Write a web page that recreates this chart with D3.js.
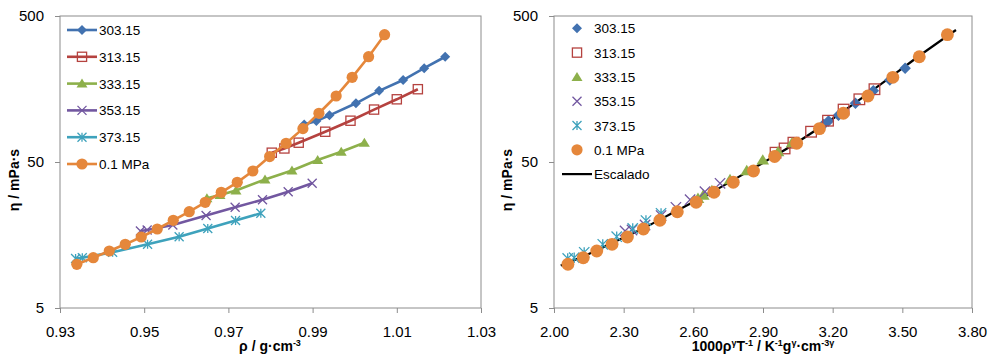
<!DOCTYPE html>
<html>
<head>
<meta charset="utf-8">
<script src="https://cdn.jsdelivr.net/npm/d3@7"></script>
<style>
body { margin: 0; background: #fff; }
text { font-family: "Liberation Sans", Arial, sans-serif; }
</style>
</head>
<body>
<script>
const largeur = 989;
const hauteur = 356;

// valeurs
const noms = ["303.15", "313.15", "333.15", "353.15", "373.15", "0.1 MPa"];

const rho303 = [0.9880, 0.9909, 0.9940, 1.0003, 1.0058, 1.0115, 1.0165, 1.0215];
const eta303 = [90.3, 95.4, 104.4, 126.2, 153.7, 182.2, 219.5, 263.0];
const x303 = [3.161, 3.182, 3.225, 3.298, 3.375, 3.446, 3.512, 3.574];

const rho313 = [0.9803, 0.9833, 0.9867, 0.9930, 0.9990, 1.0046, 1.0100, 1.0150];
const eta313 = [57.9, 61.9, 67.8, 80.6, 95.9, 114.3, 134.4, 157.6];
const x313 = [2.954, 2.993, 3.031, 3.107, 3.180, 3.247, 3.315, 3.380];

const rho333 = [0.9649, 0.9680, 0.9718, 0.9787, 0.9851, 0.9912, 0.9968, 1.0023];
const eta333 = [28.2, 29.7, 31.9, 37.9, 43.7, 51.6, 58.8, 67.8];
const x333 = [2.620, 2.643, 2.680, 2.758, 2.830, 2.899, 2.965, 3.025];

const rho353 = [0.9491, 0.9507, 0.9568, 0.9647, 0.9716, 0.9781, 0.9842, 0.9899];
const eta353 = [16.84, 17.11, 18.51, 21.50, 24.47, 27.59, 31.30, 35.73];
const x353 = [2.306, 2.336, 2.392, 2.461, 2.525, 2.586, 2.650, 2.715];

const rho373 = [0.9337, 0.9353, 0.9425, 0.9508, 0.9583, 0.9651, 0.9717, 0.9777];
const eta373 = [10.92, 11.05, 12.03, 13.65, 15.39, 17.52, 19.87, 22.26];
const x373 = [2.059, 2.087, 2.130, 2.210, 2.270, 2.339, 2.396, 2.461];

const rho01 = [0.9340, 0.9379, 0.9417, 0.9455, 0.9493, 0.9531, 0.9569, 0.9607, 0.9645, 0.9683,
               0.9721, 0.9758, 0.9798, 0.9837, 0.9877, 0.9915, 0.9956, 0.9994, 1.0033, 1.0071];
const eta01 = [9.96, 11.05, 12.29, 13.65, 15.32, 17.38, 19.94, 22.83, 26.48, 31.00,
               36.30, 43.38, 54.5, 67.2, 84.6, 107.8, 141.6, 190.1, 263.2, 372.4];
const x01 = [2.060, 2.126, 2.184, 2.250, 2.316, 2.385, 2.456, 2.531, 2.612, 2.689,
             2.772, 2.859, 2.950, 3.045, 3.143, 3.246, 3.352, 3.459, 3.573, 3.694];

// courbe "Escalado"
const xEscalado = [2.029, 2.125, 2.250, 2.383, 2.530, 2.689, 2.857, 3.046, 3.245, 3.456, 3.572, 3.731];
const etaEscalado = [9.77, 11.26, 13.94, 17.52, 23.27, 31.64, 45.12, 68.0, 110.9, 194.1, 266.1, 401.0];

const ticksRho = [0.93, 0.95, 0.97, 0.99, 1.01, 1.03];
const ticksX = [2.00, 2.30, 2.60, 2.90, 3.20, 3.50, 3.80];
const ticksEta = [5, 50, 500];

const couleurs = ["#4272b0", "#b5423f", "#8db04b", "#7257a0", "#3ea2bc", "#e5873b"];
const marques = ["losange", "carre", "triangle", "croix", "etoile", "cercle"];

const series = [
    { rho: rho303, eta: eta303, x: x303 },
    { rho: rho313, eta: eta313, x: x313 },
    { rho: rho333, eta: eta333, x: x333 },
    { rho: rho353, eta: eta353, x: x353 },
    { rho: rho373, eta: eta373, x: x373 },
    { rho: rho01, eta: eta01, x: x01 }
];

series.forEach(function(s, i)
{
    s.nom = noms[i];
    s.couleur = couleurs[i];
    s.marque = marques[i];
    s.points = s.eta.map(function(e, j)
    {
        return { rho: s.rho[j], x: s.x[j], eta: e };
    });
});

const svg = d3
.select("body")
.append("svg")
.attr("width", largeur)
.attr("height", hauteur);

const gris = "#8c8c8c";
const haut = 16;
const bas = 308;

function dessinerMarque(g, type, cx, cy, t, couleur)
{
    if(type == "losange")
    {
        g.append("path")
        .attr("d", "M" + cx + "," + (cy - t) + "L" + (cx + t) + "," + cy + "L" + cx + "," + (cy + t) + "L" + (cx - t) + "," + cy + "Z")
        .attr("fill", couleur);
    }
    else if(type == "carre")
    {
        g.append("rect")
        .attr("x", cx - t)
        .attr("y", cy - t)
        .attr("width", 2 * t)
        .attr("height", 2 * t)
        .attr("fill", "none")
        .attr("stroke", couleur)
        .attr("stroke-width", 1.3);
    }
    else if(type == "triangle")
    {
        g.append("path")
        .attr("d", "M" + cx + "," + (cy - t) + "L" + (cx + t * 1.1) + "," + (cy + t * 0.8) + "L" + (cx - t * 1.1) + "," + (cy + t * 0.8) + "Z")
        .attr("fill", couleur);
    }
    else if(type == "croix" || type == "etoile")
    {
        let d = "M" + (cx - t) + "," + (cy - t) + "L" + (cx + t) + "," + (cy + t)
              + "M" + (cx + t) + "," + (cy - t) + "L" + (cx - t) + "," + (cy + t);
        if(type == "etoile")
        {
            d += "M" + cx + "," + (cy - t) + "L" + cx + "," + (cy + t);
        }
        g.append("path")
        .attr("d", d)
        .attr("fill", "none")
        .attr("stroke", couleur)
        .attr("stroke-width", 1.3);
    }
    else
    {
        g.append("circle")
        .attr("cx", cx)
        .attr("cy", cy)
        .attr("r", t)
        .attr("fill", couleur);
    }
}

function tailleMarque(type, grand)
{
    const tailles = { losange: 5, carre: 4.6, triangle: 5, croix: 4.5, etoile: 4.5, cercle: 5.6 };
    return tailles[type] * (grand ? 1.15 : 1);
}

function dessinerAxes(g, x, y, gauche, droite, ticks, titreY)
{
    const axeX = d3.axisBottom(x)
    .tickValues(ticks)
    .tickFormat(d3.format(".2f"))
    .tickSize(5)
    .tickPadding(13)
    .tickSizeOuter(0);

    const gx = g.append("g")
    .attr("transform", "translate(0," + bas + ")")
    .call(axeX);

    const axeY = d3.axisLeft(y)
    .tickValues(ticksEta)
    .tickFormat(d3.format("d"))
    .tickSize(5)
    .tickPadding(11)
    .tickSizeOuter(0);

    const gy = g.append("g")
    .attr("transform", "translate(" + gauche + ",0)")
    .call(axeY);

    [gx, gy].forEach(function(a)
    {
        a.select(".domain").remove();
        a.selectAll("line").attr("stroke", gris);
        a.selectAll("text")
        .attr("fill", "#000")
        .style("font-size", "15px")
        .style("font-family", "'Liberation Sans', Arial, sans-serif");
    });

    g.append("rect")
    .attr("x", gauche)
    .attr("y", haut)
    .attr("width", droite - gauche)
    .attr("height", bas - haut)
    .attr("fill", "none")
    .attr("stroke", gris)
    .attr("stroke-width", 1);

    g.append("text")
    .attr("transform", "translate(" + titreY + "," + ((haut + bas) / 2 + 18) + ") rotate(-90)")
    .attr("text-anchor", "middle")
    .style("font-size", "14px")
    .style("font-weight", "bold")
    .text("η / mPa·s");
}

function exposant(texte, contenu)
{
    texte.append("tspan")
    .attr("baseline-shift", "super")
    .style("font-size", "9px")
    .text(contenu);
}

// ---------- graphique de gauche ----------
const xGauche = d3.scaleLinear().domain([0.93, 1.03]).range([60, 481]);
const yGauche = d3.scaleLog().domain([5, 500]).range([bas, haut]);

const gauche = svg.append("g");
dessinerAxes(gauche, xGauche, yGauche, 60, 481, ticksRho, 19);

const titreRho = gauche.append("text")
.attr("x", 270)
.attr("y", 351)
.attr("text-anchor", "middle")
.style("font-size", "14px")
.style("font-weight", "bold");
titreRho.append("tspan").text("ρ / g·cm");
exposant(titreRho, "-3");

const ligneGauche = d3.line()
.x(function(d) { return xGauche(d.rho); })
.y(function(d) { return yGauche(d.eta); });

series.forEach(function(s)
{
    const g = gauche.append("g");
    g.append("path")
    .attr("d", ligneGauche(s.points))
    .attr("fill", "none")
    .attr("stroke", s.couleur)
    .attr("stroke-width", 2.6);
    s.points.forEach(function(p)
    {
        dessinerMarque(g, s.marque, xGauche(p.rho), yGauche(p.eta), tailleMarque(s.marque, false), s.couleur);
    });
});

// légende de gauche
series.forEach(function(s, i)
{
    const yl = 30 + i * 26.8;
    const g = gauche.append("g");
    g.append("line")
    .attr("x1", 67).attr("x2", 97)
    .attr("y1", yl).attr("y2", yl)
    .attr("stroke", s.couleur)
    .attr("stroke-width", 2.6);
    dessinerMarque(g, s.marque, 82, yl, tailleMarque(s.marque, false), s.couleur);
    g.append("text")
    .attr("x", 99)
    .attr("y", yl + 5)
    .style("font-size", "13.5px")
    .text(s.nom);
});

// ---------- graphique de droite ----------
const xDroite = d3.scaleLinear().domain([2.0, 3.8]).range([554, 972]);
const yDroite = d3.scaleLog().domain([5, 500]).range([bas, haut]);

const droite = svg.append("g");
dessinerAxes(droite, xDroite, yDroite, 554, 972, ticksX, 512);

const titreX = droite.append("text")
.attr("x", 763)
.attr("y", 351)
.attr("text-anchor", "middle")
.style("font-size", "14px")
.style("font-weight", "bold");
titreX.append("tspan").text("1000ρ");
exposant(titreX, "γ");
titreX.append("tspan").text("T");
exposant(titreX, "-1");
titreX.append("tspan").text(" / K");
exposant(titreX, "-1");
titreX.append("tspan").text("g");
exposant(titreX, "γ");
titreX.append("tspan").text("·cm");
exposant(titreX, "-3γ");

const ligneEscalado = d3.line()
.x(function(d) { return xDroite(d.x); })
.y(function(d) { return yDroite(d.eta); })
.curve(d3.curveCatmullRom);

droite.append("path")
.attr("d", ligneEscalado(xEscalado.map(function(v, i) { return { x: v, eta: etaEscalado[i] }; })))
.attr("fill", "none")
.attr("stroke", "#000")
.attr("stroke-width", 2.2);

series.forEach(function(s)
{
    const g = droite.append("g");
    s.points.forEach(function(p)
    {
        dessinerMarque(g, s.marque, xDroite(p.x), yDroite(p.eta), tailleMarque(s.marque, true), s.couleur);
    });
});

// légende de droite
series.forEach(function(s, i)
{
    const yl = 28.3 + i * 24.3;
    const g = droite.append("g");
    dessinerMarque(g, s.marque, 577, yl, tailleMarque(s.marque, false), s.couleur);
    g.append("text")
    .attr("x", 594)
    .attr("y", yl + 5)
    .style("font-size", "13.5px")
    .text(s.nom);
});

const yEsc = 28.3 + 6 * 24.3;
droite.append("line")
.attr("x1", 562).attr("x2", 592)
.attr("y1", yEsc).attr("y2", yEsc)
.attr("stroke", "#000")
.attr("stroke-width", 2.2);
droite.append("text")
.attr("x", 594)
.attr("y", yEsc + 5)
.style("font-size", "13.5px")
.text("Escalado");
</script>
</body>
</html>
